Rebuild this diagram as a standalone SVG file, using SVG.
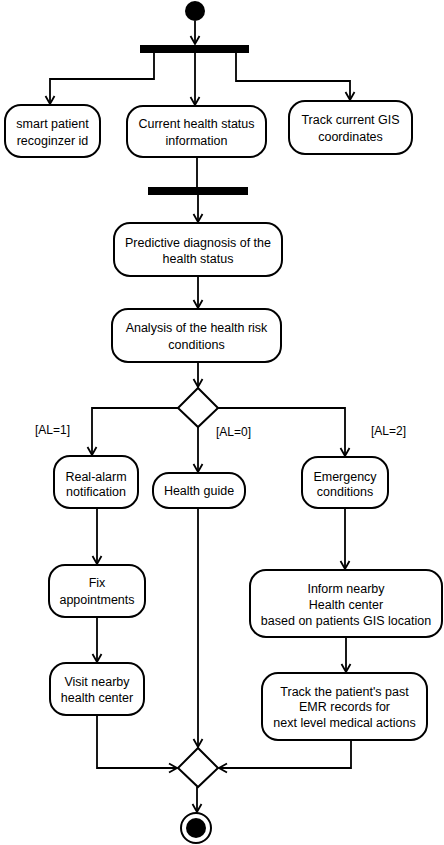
<svg xmlns="http://www.w3.org/2000/svg" width="444" height="845" viewBox="0 0 444 845">
<style>
.box{fill:#fff;stroke:#000;stroke-width:2}
.bar{fill:#000}
.t{font-family:"Liberation Sans",Arial,sans-serif;font-size:12.5px;fill:#000;text-anchor:middle}
.g{font-family:"Liberation Sans",Arial,sans-serif;font-size:12px;fill:#000}
.c{fill:none;stroke:#000;stroke-width:1.8}
</style>
<defs>
<marker id="ar" markerWidth="12" markerHeight="12" refX="9" refY="6" orient="auto" markerUnits="userSpaceOnUse">
<path d="M1,1.5 L9,6 L1,10.5" fill="none" stroke="#000" stroke-width="1.8"/>
</marker>
</defs>
<rect width="444" height="845" fill="#fff"/>
<g id="connectors">
<path class="c" d="M195,21 V44" marker-end="url(#ar)"/>
<path class="c" d="M154,53 V79 H50 V104" marker-end="url(#ar)"/>
<path class="c" d="M195,53 V105" marker-end="url(#ar)"/>
<path class="c" d="M236,53 V81 H350 V100" marker-end="url(#ar)"/>
<path class="c" d="M197,157 V187"/>
<path class="c" d="M198,195 V222" marker-end="url(#ar)"/>
<path class="c" d="M198,276 V308" marker-end="url(#ar)"/>
<path class="c" d="M198,362 V387" marker-end="url(#ar)"/>
<path class="c" d="M178,408 H92 V455" marker-end="url(#ar)"/>
<path class="c" d="M198,427 V472" marker-end="url(#ar)"/>
<path class="c" d="M218,408 H345 V456" marker-end="url(#ar)"/>
<path class="c" d="M97,508 V564" marker-end="url(#ar)"/>
<path class="c" d="M97,617 V662" marker-end="url(#ar)"/>
<path class="c" d="M97,715 V768 H177" marker-end="url(#ar)"/>
<path class="c" d="M198,508 V747" marker-end="url(#ar)"/>
<path class="c" d="M345,508 V569" marker-end="url(#ar)"/>
<path class="c" d="M346,637 V672" marker-end="url(#ar)"/>
<path class="c" d="M351,740 V768 H219" marker-end="url(#ar)"/>
<path class="c" d="M197,787 V812" marker-end="url(#ar)"/>
<text class="g" x="35" y="434">[AL=1]</text>
<text class="g" x="216" y="436">[AL=0]</text>
<text class="g" x="371" y="435">[AL=2]</text>
</g>
<g id="start"><circle cx="195" cy="11" r="10" fill="#000"/></g>
<g id="fork"><rect class="bar" x="140" y="45" width="109" height="8"/></g>
<g id="n1"><rect class="box" x="5" y="105" width="95" height="52" rx="16"/>
<text class="t" x="52.5" y="128">smart patient</text><text class="t" x="52.5" y="145">recoginzer id</text></g>
<g id="n2"><rect class="box" x="127" y="106" width="139" height="51" rx="16"/>
<text class="t" x="196.5" y="128">Current health status</text><text class="t" x="196.5" y="145">information</text></g>
<g id="n3"><rect class="box" x="289" y="101" width="123" height="53" rx="16"/>
<text class="t" x="350.5" y="124">Track current GIS</text><text class="t" x="350.5" y="141">coordinates</text></g>
<g id="join"><rect class="bar" x="148" y="187" width="100" height="8"/></g>
<g id="n4"><rect class="box" x="114" y="223" width="168" height="53" rx="16"/>
<text class="t" x="198" y="247">Predictive diagnosis of the</text><text class="t" x="198" y="263">health status</text></g>
<g id="n5"><rect class="box" x="112" y="309" width="169" height="53" rx="16"/>
<text class="t" x="196.5" y="332">Analysis of the health risk</text><text class="t" x="196.5" y="349">conditions</text></g>
<g id="decision"><path class="box" d="M198,388 L218,408 L198,427 L178,408 Z"/></g>
<g id="n6"><rect class="box" x="54" y="456" width="84" height="52" rx="16"/>
<text class="t" x="96" y="481">Real-alarm</text><text class="t" x="96" y="496">notification</text></g>
<g id="n7"><rect class="box" x="153" y="473" width="92" height="35" rx="16"/>
<text class="t" x="199" y="495">Health guide</text></g>
<g id="n8"><rect class="box" x="302" y="457" width="86" height="51" rx="16"/>
<text class="t" x="345" y="481">Emergency</text><text class="t" x="345" y="496">conditions</text></g>
<g id="n9"><rect class="box" x="49" y="565" width="96" height="52" rx="16"/>
<text class="t" x="97" y="587">Fix</text><text class="t" x="97" y="604">appointments</text></g>
<g id="n10"><rect class="box" x="50" y="663" width="94" height="52" rx="16"/>
<text class="t" x="97" y="686">Visit nearby</text><text class="t" x="97" y="702">health center</text></g>
<g id="n11"><rect class="box" x="250" y="570" width="192" height="67" rx="16"/>
<text class="t" x="346" y="593">Inform nearby</text><text class="t" x="346" y="609">Health center</text><text class="t" x="346" y="625">based on patients GIS location</text></g>
<g id="n12"><rect class="box" x="262" y="673" width="165" height="67" rx="16"/>
<text class="t" x="344.5" y="696">Track the patient's past</text><text class="t" x="344.5" y="711">EMR records for</text><text class="t" x="344.5" y="727">next level medical actions</text></g>
<g id="merge"><path class="box" d="M198,748 L218,768 L198,787 L178,768 Z"/></g>
<g id="end"><circle cx="196" cy="828" r="15" fill="#fff" stroke="#000" stroke-width="2"/><circle cx="196" cy="828" r="10" fill="#000"/></g>
</svg>
